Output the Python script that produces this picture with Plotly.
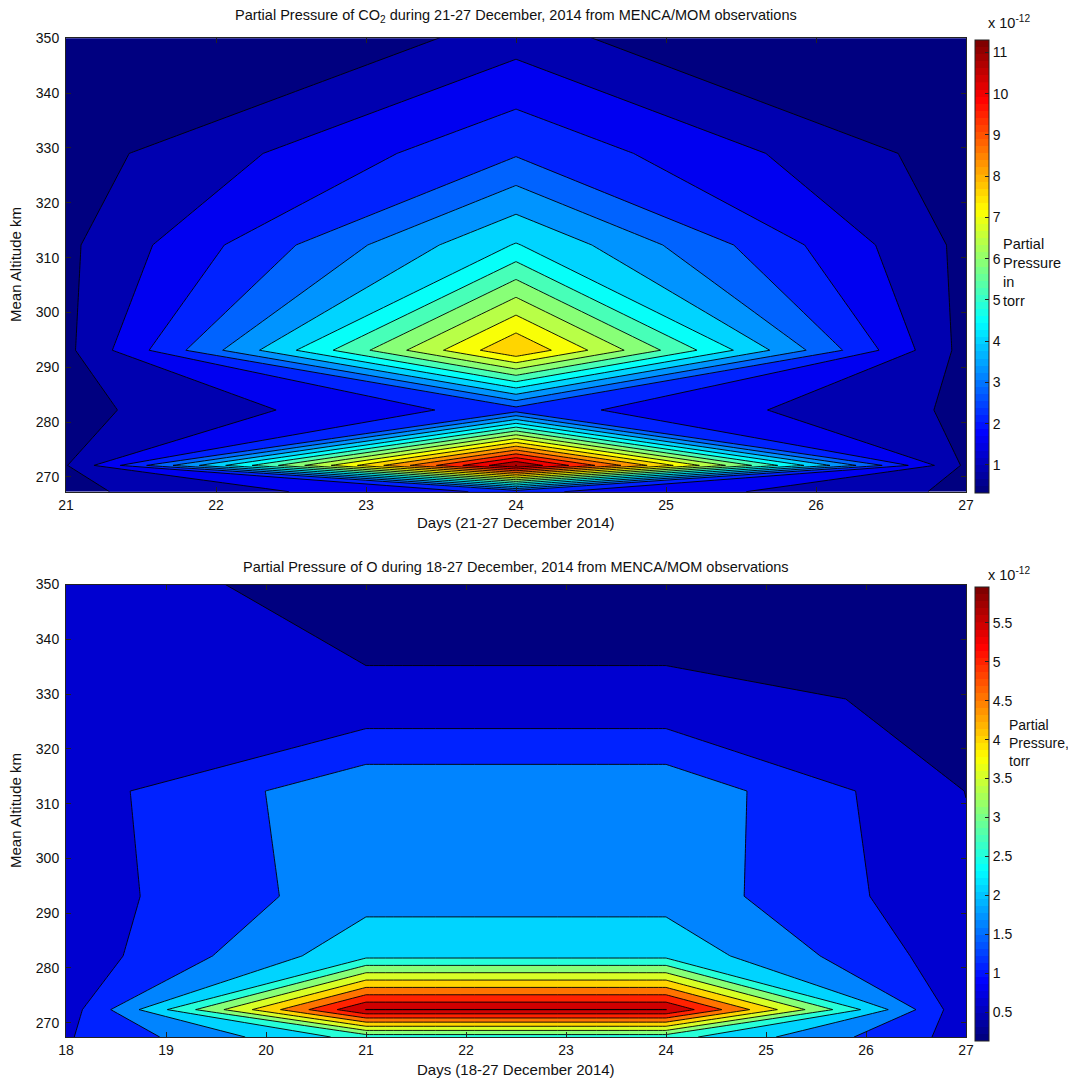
import plotly.graph_objects as go

# ---------------- CO2 panel (values in units of 1e-12 torr) ----------------
co2_days = [21, 24, 27]
co2_alt = [267.3, 272.1, 282.2, 293.1, 312.3, 329.0, 363.0]
co2_day21 = [0.77, 0.88, 0.72, 0.76, 0.79, 0.63, 0.32]
co2_day24 = [2.30, 11.30, 2.45, 8.22, 4.62, 2.68, 0.40]
co2_day27 = [0.79, 0.79, 0.80, 0.68, 0.75, 0.605, 0.35]
co2_crange = [0.32, 11.3]
co2_steps = 18
co2_cbar_ticks = [1, 2, 3, 4, 5, 6, 7, 8, 9, 10, 11]
co2_cbar_text = ["1", "2", "3", "4", "5", "6", "7", "8", "9", "10", "11"]
co2_xticks = [21, 22, 23, 24, 25, 26, 27]

# ---------------- O panel (values in units of 1e-12 torr) ----------------
o_days = [18, 21, 24, 27]
o_alt = [267.4, 272.4, 282.2, 293.1, 312.3, 329.1, 363.0]
o_day18 = [1.045, 0.81, 0.782, 0.833, 0.861, 0.80, 0.658]
o_day21 = [2.75, 5.96, 2.41, 1.88, 1.94, 0.69, 0.224]
o_day24 = [2.75, 5.96, 2.41, 1.88, 1.94, 0.69, 0.224]
o_day27 = [0.88, 0.70, 0.79, 0.72, 0.598, 0.55, 0.13]
o_crange = [0.13, 5.96]
o_steps = 12
o_cbar_ticks = [0.5, 1, 1.5, 2, 2.5, 3, 3.5, 4, 4.5, 5, 5.5]
o_cbar_text = ["0.5", "1", "1.5", "2", "2.5", "3", "3.5", "4", "4.5", "5", "5.5"]
o_xticks = [18, 19, 20, 21, 22, 23, 24, 25, 26, 27]

yticks = [270, 280, 290, 300, 310, 320, 330, 340, 350]

# page offset of the figure (body margin) and figure size
OX, OY = 8, 8
W, H = 1076 - OX, 1083 - OY
ML, MR, MT = 66 - OX, 110, 38 - OY
PW = W - ML - MR
MB = H - (1037 - OY)
PH = H - MT - MB
FONT = "Liberation Sans, Arial, sans-serif"


def fx(px):
    return (px - OX - ML) / PW


def fy(py):
    return (H - MB - (py - OY)) / PH


def jet(v):
    v = min(max(v, 0.0), 1.0)

    def cl(a):
        return min(max(a, 0.0), 1.0)
    r = cl(min(4 * v - 1.5, -4 * v + 4.5))
    g = cl(min(4 * v - 0.5, -4 * v + 3.5))
    b = cl(min(4 * v + 0.5, -4 * v + 2.5))
    return "rgb(%d,%d,%d)" % (round(r * 255), round(g * 255), round(b * 255))


def band_scale(ns):
    # MATLAB contourf: each band coloured by its lower level through jet(64)
    scale = []
    for j in range(ns + 1):
        idx = min(63, int(64 * j / ns))
        c = jet(idx / 63.0)
        lo = max(0.0, (j - 0.5) / ns)
        hi = min(1.0, (j + 0.5) / ns)
        if j < ns:
            hi -= 1e-4
        scale.append([lo, c])
        scale.append([hi, c])
    return scale


def bar_scale():
    scale = []
    for i in range(64):
        c = jet(i / 63.0)
        lo = i / 64.0
        hi = (i + 1) / 64.0 - (1e-4 if i < 63 else 0)
        scale.append([lo, c])
        scale.append([hi, c])
    return scale


def grid(cols):
    return [list(r) for r in zip(*cols)]


fig = go.Figure()


def add_panel(days, alts, cols, crange, ns, xa, ya, cb_top, cb_bot, ticks, ticktext):
    zmin, zmax = crange
    cs = (zmax - zmin) / ns
    shift = 0.02 * cs                      # top level just under the maximum
    start = zmin + cs - shift
    last = zmin + ns * cs - shift
    end = last + 0.01 * cs                 # so that exactly ns levels are drawn
    fig.add_trace(go.Contour(
        x=days, y=alts, z=grid(cols),
        autocontour=False,
        contours=dict(start=start, end=end, size=cs, coloring="fill", showlines=True),
        line=dict(color="black", width=0.9, smoothing=0),
        colorscale=band_scale(ns),
        showscale=False,
        hoverinfo="skip",
        xaxis=xa, yaxis=ya,
    ))
    fig.add_trace(go.Scatter(
        x=[days[0]], y=[alts[2]], mode="markers",
        marker=dict(size=1, opacity=0, color=[zmin], cmin=zmin, cmax=zmax,
                    colorscale=bar_scale(), showscale=True,
                    colorbar=dict(
                        x=fx(975), xanchor="left", thickness=14,
                        y=fy(cb_top), yanchor="top",
                        len=(cb_bot - cb_top) / PH, lenmode="fraction",
                        xpad=0, ypad=0, outlinecolor="#222", outlinewidth=1,
                        tickmode="array", tickvals=ticks, ticktext=ticktext,
                        ticks="inside", ticklen=4, tickcolor="#222",
                        tickfont=dict(family=FONT, size=14, color="#111"),
                    )),
        hoverinfo="skip", showlegend=False,
        xaxis=xa, yaxis=ya,
    ))


add_panel(co2_days, co2_alt, [co2_day21, co2_day24, co2_day27], co2_crange, co2_steps,
          "x", "y", 40, 493, co2_cbar_ticks, co2_cbar_text)
add_panel(o_days, o_alt, [o_day18, o_day21, o_day24, o_day27], o_crange, o_steps,
          "x2", "y2", 587, 1041, o_cbar_ticks, o_cbar_text)

axis_common = dict(showgrid=False, zeroline=False, showline=True, linecolor="#222", linewidth=1,
                   mirror="allticks", ticks="inside", ticklen=5, tickcolor="#222",
                   automargin=False,
                   tickfont=dict(family=FONT, size=14, color="#111"))

fig.update_layout(
    width=W, height=H, autosize=False,
    margin=dict(l=ML, r=MR, t=MT, b=MB, pad=0, autoexpand=False),
    paper_bgcolor="white", plot_bgcolor="white", showlegend=False,
    xaxis=dict(domain=[0, 1], anchor="y", range=[21, 27], tickmode="array", tickvals=co2_xticks,
               **axis_common),
    yaxis=dict(domain=[fy(491.7), min(1, fy(38.3))], anchor="x", range=[267.3, 350],
               tickmode="array", tickvals=yticks, ticklabelstandoff=3, **axis_common),
    xaxis2=dict(domain=[0, 1], anchor="y2", range=[18, 27], tickmode="array", tickvals=o_xticks,
                **axis_common),
    yaxis2=dict(domain=[max(0, fy(1037.3)), fy(584.5)], anchor="x2", range=[267.4, 350],
                tickmode="array", tickvals=yticks, ticklabelstandoff=3, **axis_common),
)

tf = dict(family=FONT, size=14.5, color="#111")
af = dict(family=FONT, size=15, color="#111")
ann = [
    dict(text="Partial Pressure of CO<sub>2</sub> during 21-27 December, 2014 from MENCA/MOM observations",
         x=fx(516), y=fy(16), xanchor="center", yanchor="middle"),
    dict(text="Partial Pressure of O during 18-27 December, 2014 from MENCA/MOM observations",
         x=fx(516), y=fy(567), xanchor="center", yanchor="middle"),
    dict(text="Days (21-27 December 2014)", x=fx(516), y=fy(522), xanchor="center", yanchor="middle",
         font=af),
    dict(text="Days (18-27 December 2014)", x=fx(516), y=fy(1069), xanchor="center", yanchor="middle",
         font=af),
    dict(text="Mean Altitude km", x=fx(15), y=fy(265), xanchor="center", yanchor="middle",
         textangle=-90, font=af),
    dict(text="Mean Altitude km", x=fx(15), y=fy(811), xanchor="center", yanchor="middle",
         textangle=-90, font=af),
    dict(text="x 10<sup>-12</sup>", x=fx(986), y=fy(22), xanchor="left", yanchor="middle"),
    dict(text="x 10<sup>-12</sup>", x=fx(986), y=fy(574), xanchor="left", yanchor="middle"),
    dict(text="Partial<br>Pressure<br>in<br>torr", x=fx(1001), y=fy(272), xanchor="left",
         yanchor="middle", align="left"),
    dict(text="Partial<br>Pressure,<br>torr", x=fx(1007), y=fy(743), xanchor="left",
         yanchor="middle", align="left", font=dict(family=FONT, size=14, color="#111")),
]
for a in ann:
    a.setdefault("font", tf)
    a.update(xref="paper", yref="paper", showarrow=False)
fig.update_layout(annotations=ann)

fig.write_html("out.html")
